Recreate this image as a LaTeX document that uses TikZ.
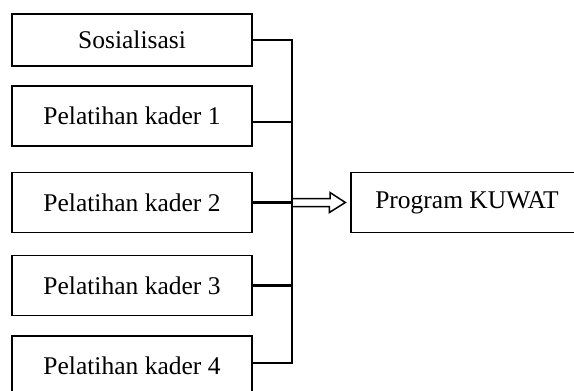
\documentclass[tikz,border=0pt]{standalone}
\usepackage{fontspec}
\setmainfont{Liberation Serif}
\usetikzlibrary{positioning}

\begin{document}
\begin{tikzpicture}[x=1pt,y=1pt,line join=miter,
  box node/.style={draw,line width=1.3pt,minimum width=240pt,minimum height=60pt,inner sep=0pt,font=\fontsize{25.5}{28}\selectfont},
  bus line/.style={line width=2.3pt},
  hollow arrow/.style={line width=1.5pt}]

	      \useasboundingbox (0,0) rectangle (574,-391);

	      \node[box node,minimum height=52pt] at (132,-40) (1) {Sosialisasi};
	      \node[box node] at (132,-116) (2) {Pelatihan kader 1};
	      \node[box node] at (132,-202.5) (3) {Pelatihan kader 2};
	      \node[box node] at (132,-285.5) (4) {Pelatihan kader 3};
	      \node[box node] at (132,-366) (5) {Pelatihan kader 4};
	      \node[box node,minimum width=232pt] at (467,-202.5) (6) {Program KUWAT};
	      \coordinate (bus) at (292,-202.5);

	      % all five boxes join on one vertical line
	      \draw[bus line] (1.east) -| (bus);
	      \draw[bus line] ([yshift=-6pt]2.east) -| (bus);
	      \draw[bus line] (3.east) -- (bus);
	      \draw[bus line] (4.east) -| (bus);
	      \draw[bus line] ([yshift=3pt]5.east) -| (bus);

	      % open arrow into the programme box
	      \draw[hollow arrow] ([yshift=4pt]bus) -- ++(38,0) -- ++(0,6)
	        -- ([xshift=-5pt]6.west) -- ++(-16,-10) -- ++(0,6) -- ([yshift=-4pt]bus);

	    \end{tikzpicture}
\end{document}
